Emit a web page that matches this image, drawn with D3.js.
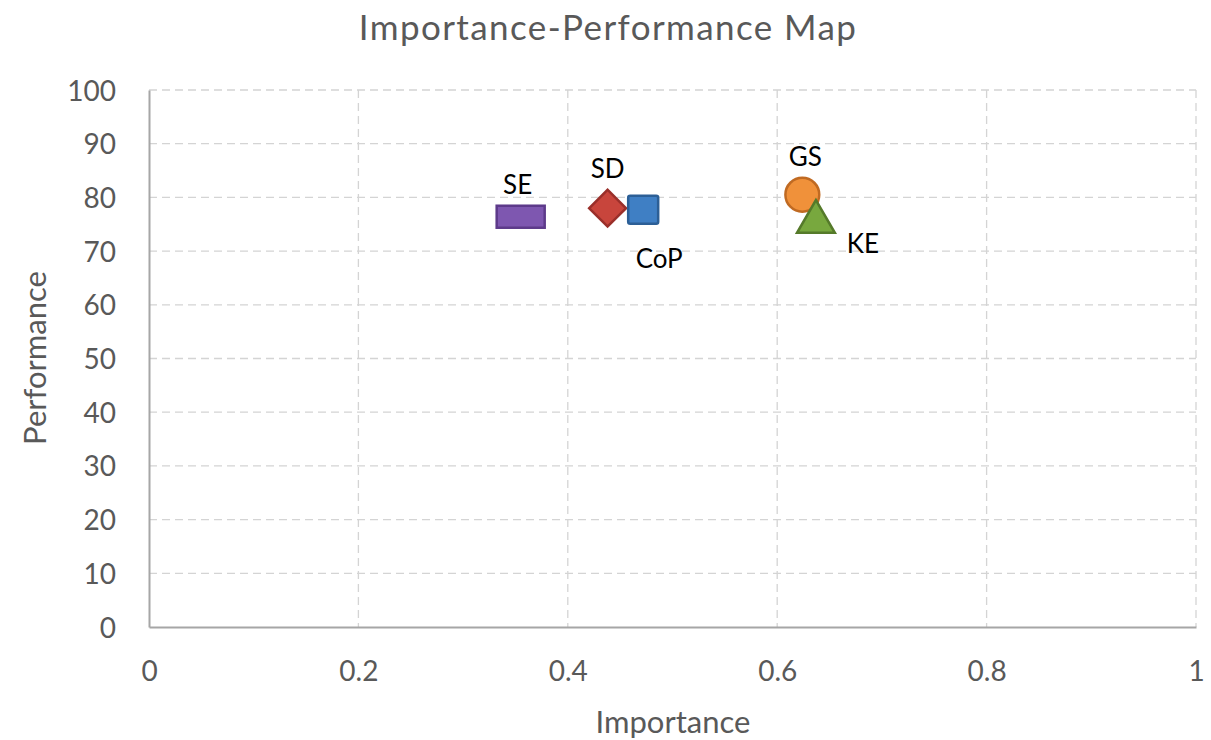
<!DOCTYPE html>
<html>
<head>
<meta charset="utf-8">
<script src="https://cdn.jsdelivr.net/npm/d3@7"></script>
<style>
  body { margin: 0; background: #fff; }
  svg text { font-family: Lato, "Open Sans", sans-serif; }
</style>
</head>
<body>
<div id="chart"></div>
<script>
// data
const names = ['SE', 'SD', 'CoP', 'GS', 'KE'];
const importance = [0.355, 0.438, 0.472, 0.624, 0.637];
const performance = [76.4, 78.0, 77.7, 80.5, 76.0];
const xTicks = [0, 0.2, 0.4, 0.6, 0.8, 1];
const yTicks = [0, 10, 20, 30, 40, 50, 60, 70, 80, 90, 100];

// marker look per point
const shapes = ['dash', 'diamond', 'square', 'circle', 'triangle'];
const fills = ['#7e57b0', '#c8453c', '#3f7fc4', '#f0913a', '#78a83e'];
const strokes = ['#5d3a8a', '#9a2f2a', '#2c5f96', '#c06a22', '#557a2a'];
// label offset from marker centre (px)
const labelDx = [-3, 0, 16, 3, 47];
const labelDy = [-32, -40, 49, -38, 25];

const W = 1211, H = 740;
const margin = { top: 90, right: 15, bottom: 113, left: 149 };
const width = 1196 - margin.left;
const height = 627 - margin.top;

const svg = d3.select('#chart')
  .append('svg')
  .attr('width', W)
  .attr('height', H);

const g = svg.append('g')
  .attr('transform', `translate(${margin.left},${margin.top})`);

const x = d3.scaleLinear().domain([0, 1]).range([0, width]);
const y = d3.scaleLinear().domain([0, 100]).range([height, 0]);

// gridlines
g.append('g')
  .selectAll('line.hgrid')
  .data(yTicks.filter(d => d > 0))
  .enter()
  .append('line')
  .attr('x1', 0).attr('x2', width)
  .attr('y1', d => y(d)).attr('y2', d => y(d))
  .style('stroke', '#d4d4d4')
  .style('stroke-width', 1.3)
  .style('stroke-dasharray', '8,5');

g.append('g')
  .selectAll('line.vgrid')
  .data(xTicks.filter(d => d > 0))
  .enter()
  .append('line')
  .attr('x1', d => x(d)).attr('x2', d => x(d))
  .attr('y1', 0).attr('y2', height)
  .style('stroke', '#d4d4d4')
  .style('stroke-width', 1.3)
  .style('stroke-dasharray', '8,5');

//x-axis
const xAxis = g.append('g')
  .attr('transform', `translate(0, ${height})`)
  .call(d3.axisBottom(x).tickValues(xTicks).tickSize(0).tickPadding(34)
    .tickFormat(d => d3.format('')(d)));

//y-axis
const yAxis = g.append('g')
  .call(d3.axisLeft(y).tickValues(yTicks).tickSize(0).tickPadding(33));

[xAxis, yAxis].forEach(a => {
  a.select('.domain').style('stroke', '#a6a6a6').style('stroke-width', 2);
  a.selectAll('text')
    .style('font-size', '28px')
    .style('fill', '#595959');
});
yAxis.selectAll('text').attr('dy', '0.36em');

// markers
const sym = {
  diamond: d3.symbol().type(d3.symbolSquare).size(680),
  circle: d3.symbol().type(d3.symbolCircle).size(900),
  triangle: d3.symbol().type(d3.symbolTriangle).size(620)
};

const pts = g.append('g')
  .selectAll('g.pt')
  .data(names.map((n, i) => i))
  .enter()
  .append('g')
  .attr('transform', i => `translate(${x(importance[i])},${y(performance[i])})`);

pts.each(function (i) {
  const el = d3.select(this);
  let m;
  if (shapes[i] === 'dash') {
    m = el.append('rect').attr('x', -24).attr('y', -11).attr('width', 48).attr('height', 22);
  } else if (shapes[i] === 'square') {
    m = el.append('rect').attr('x', -15).attr('y', -14).attr('width', 30).attr('height', 28).attr('rx', 2);
  } else if (shapes[i] === 'diamond') {
    m = el.append('path').attr('d', sym.diamond()).attr('transform', 'rotate(45)');
  } else if (shapes[i] === 'triangle') {
    m = el.append('path').attr('d', sym.triangle()).attr('transform', 'translate(0,3)');
  } else {
    m = el.append('path').attr('d', sym.circle());
  }
  m.style('fill', fills[i])
    .style('stroke', strokes[i])
    .style('stroke-width', 2.5);
});

// point labels
pts.append('text')
  .attr('x', i => labelDx[i])
  .attr('y', i => labelDy[i])
  .attr('text-anchor', 'middle')
  .attr('dy', '0.36em')
  .style('font-size', '26px')
  .style('fill', '#000')
  .text(i => names[i]);

// title
svg.append('text')
  .attr('x', 608).attr('y', 40)
  .attr('text-anchor', 'middle')
  .style('font-size', '35px')
  .style('letter-spacing', '1.4px')
  .style('fill', '#595959')
  .text('Importance-Performance Map');

// axis titles
svg.append('text')
  .attr('x', 673).attr('y', 733)
  .attr('text-anchor', 'middle')
  .style('font-size', '31px')
  .style('fill', '#595959')
  .text('Importance');

svg.append('text')
  .attr('transform', 'translate(46,358) rotate(-90)')
  .attr('text-anchor', 'middle')
  .style('font-size', '31px')
  .style('fill', '#595959')
  .text('Performance');
</script>
</body>
</html>
